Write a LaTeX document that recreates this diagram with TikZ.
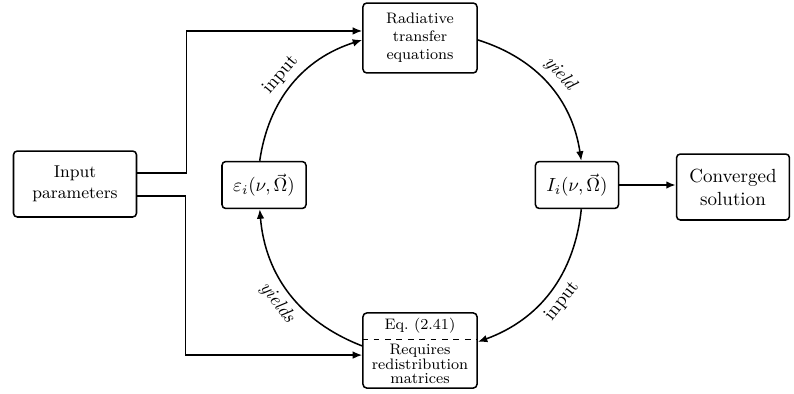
\documentclass[tikz,border=0pt]{standalone}
\usetikzlibrary{positioning,arrows.meta}
\begin{document}
\begin{tikzpicture}[x=0.526pt,y=0.526pt,thick,>={Latex[length=5pt,width=4pt]},
	box/.style={draw,rounded corners=2pt,align=center,inner sep=1pt},
	lbl/.style={sloped,font=\normalsize}]
	\useasboundingbox (0,0) rectangle (794,393);
	% boxes
	\node[box,minimum width=64.7pt,minimum height=34.7pt,font=\small] (inp) at (75,209) {Input\\parameters};
	\node[box,minimum width=44.2pt,minimum height=24.7pt] (eps) at (264,208) {$\varepsilon_i(\nu,\vec{\Omega})$};
	\node[box,minimum width=43.7pt,minimum height=24.7pt] (ii) at (577,208) {$I_i(\nu,\vec{\Omega})$};
	\node[box,minimum width=59.4pt,minimum height=34.7pt] (conv) at (733,206) {Converged\\solution};
	\node[box,minimum width=60pt,minimum height=36.8pt,font=\footnotesize] (rte) at (420,355) {Radiative\\transfer\\equations};
	\node[box,minimum width=60pt,minimum height=39.5pt] (eq) at (420,42.5) {};
	\coordinate (split) at (420,54);
	\node[font=\footnotesize] (eqref) at (420,67) {Eq.~(2.41)};
	\node[font=\footnotesize,align=center,inner sep=0pt] (eqtxt) at (420,29) {Requires\\[-2pt]redistribution\\[-2pt]matrices};
	\draw[dashed,thin] (split -| eq.west) -- (split -| eq.east);
	% input parameters
	\draw[->] ([yshift=5.8pt]inp.east) -- ++(49,0) |- ([yshift=3.7pt]rte.west);
	\draw[->] ([yshift=-6.3pt]inp.east) -- ++(48,0) |- ([yshift=-2.4pt]eq.west);
	% iteration cycle
	\draw[->] (eps.100) to[bend left=32] node[lbl,above] {input} ([yshift=-1pt]rte.west);
	\draw[->] ([yshift=-1pt]rte.east) to[bend left=32] node[lbl,above] {\textit{yield}} (ii.80);
	\draw[->] (ii.280) to[bend left=32] node[lbl,below] {input} ([yshift=4.5pt]eq.east);
	\draw[->] ([yshift=2.4pt]eq.west) to[bend left=32] node[lbl,below] {\textit{yields}} (eps.260);
	\draw[->,very thick] (ii.east) -- (ii.east -| conv.west);
\end{tikzpicture}
\end{document}
